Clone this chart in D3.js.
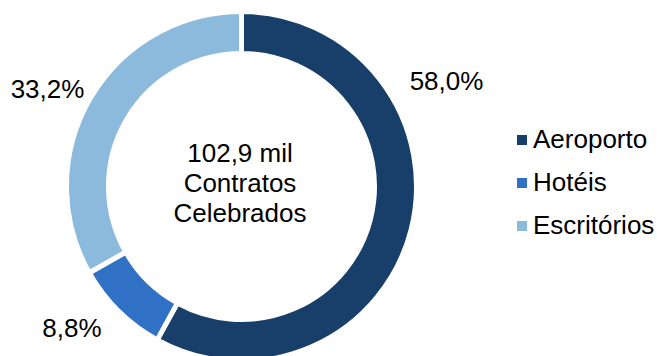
<!DOCTYPE html>
<html><head><meta charset="utf-8">
<script src="https://cdn.jsdelivr.net/npm/d3@7"></script>
<style>
html,body{margin:0;padding:0;background:#fff;}
svg{display:block;font-family:"Liberation Sans",Arial,sans-serif;}
</style></head>
<body>
<svg id="chart" width="657" height="356"></svg>
<script>
const categories = ["Aeroporto", "Hotéis", "Escritórios"];
const values = [58.0, 8.8, 33.2];
const valueLabels = ["58,0%", "8,8%", "33,2%"];
const centerLines = ["102,9 mil", "Contratos", "Celebrados"];
const colors = ["#173F6A", "#3171C5", "#8BBADC"];

// layout
const W = 657, H = 356;
const cx = 241.5, cy = 186.5, rOuter = 175, rInner = 133;
const labelPos = [[446.5, 90], [72, 337], [47.5, 97.5]];
const fs = 26;

const svg = d3.select("#chart");
const data = categories.map((c, i) => ({cat: c, value: values[i], label: valueLabels[i]}));
const color = d3.scaleOrdinal().domain(categories).range(colors);

const pie = d3.pie().value(d => d.value).sort(null);
const arc = d3.arc().innerRadius(rInner).outerRadius(rOuter);

const g = svg.append("g").attr("transform", `translate(${cx},${cy})`);
g.selectAll("path").data(pie(data)).join("path")
  .attr("d", arc)
  .attr("fill", d => color(d.data.cat))
  .attr("stroke", "#fff")
  .attr("stroke-width", 5);

svg.append("g").selectAll("text").data(data).join("text")
  .attr("x", (d, i) => labelPos[i][0])
  .attr("y", (d, i) => labelPos[i][1])
  .attr("text-anchor", "middle")
  .attr("font-size", fs)
  .attr("fill", "#000")
  .text(d => d.label);

const ct = svg.append("g");
ct.selectAll("text").data(centerLines).join("text")
  .attr("x", 240)
  .attr("y", (d, i) => 161.5 + i * 30)
  .attr("text-anchor", "middle")
  .attr("font-size", fs)
  .attr("fill", "#000")
  .text(d => d);

const leg = svg.append("g");
const item = leg.selectAll("g").data(categories).join("g")
  .attr("transform", (d, i) => `translate(517,${148 + i * 43})`);
item.append("rect")
  .attr("x", 0).attr("y", -13).attr("width", 10).attr("height", 10)
  .attr("fill", d => color(d));
item.append("text")
  .attr("x", 16).attr("y", 0)
  .attr("font-size", fs)
  .attr("fill", "#000")
  .text(d => d);
</script>
</body></html>
